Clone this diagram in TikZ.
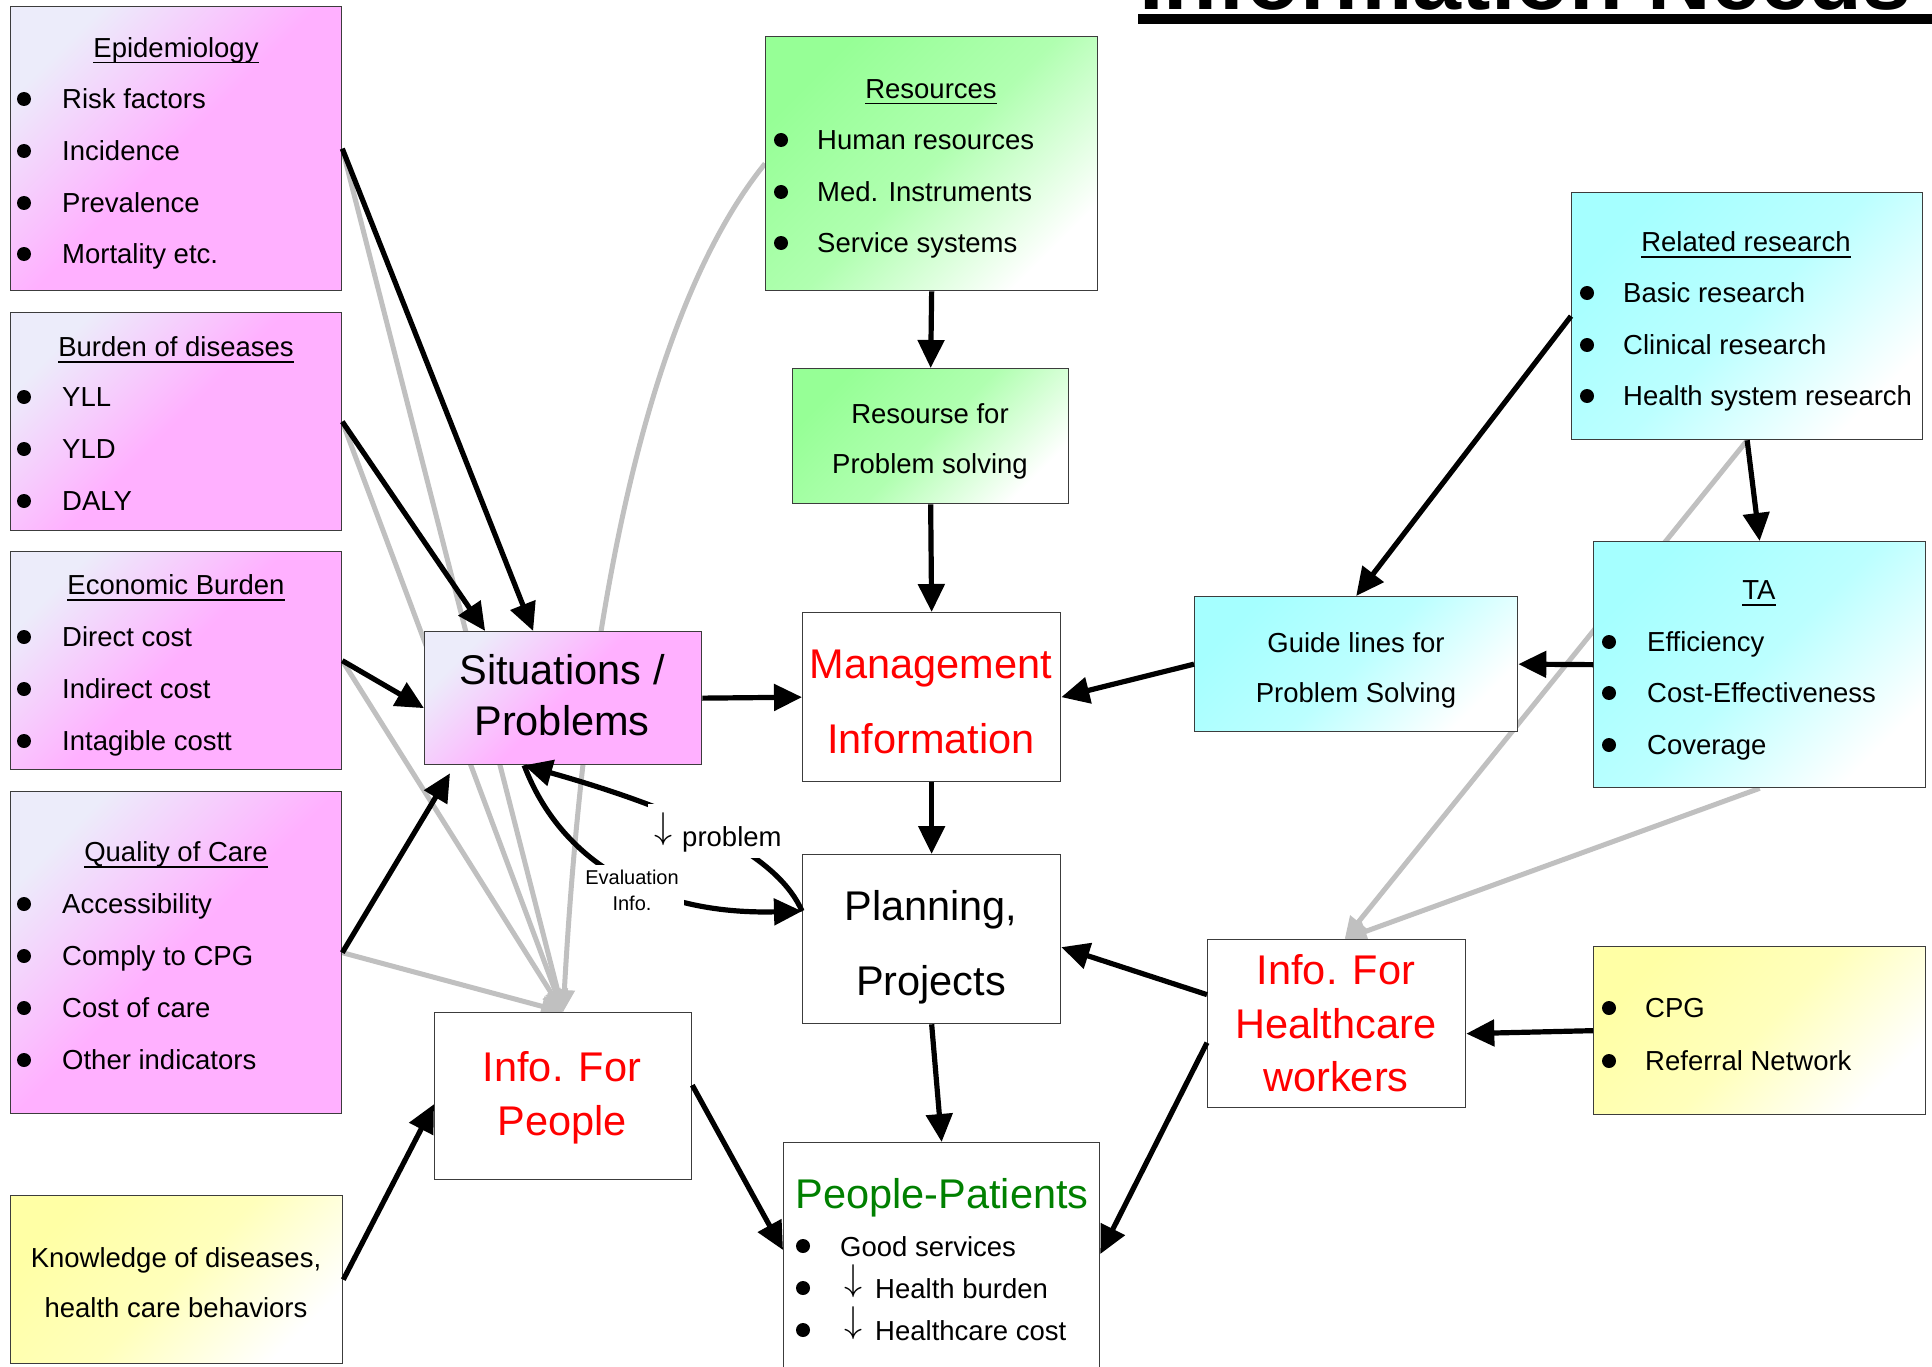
\documentclass[tikz,border=0pt]{standalone}
\usepackage{fontspec}
\usepackage{graphicx}
\setmainfont{Liberation Sans}
\usetikzlibrary{arrows.meta}

\definecolor{pinkC}{RGB}{255,176,255}
\definecolor{lavC}{RGB}{236,236,250}
\definecolor{greenC}{RGB}{150,255,150}
\definecolor{cyanC}{RGB}{165,255,255}
\definecolor{yellowC}{RGB}{255,255,165}
\definecolor{lineG}{RGB}{192,192,192}
\definecolor{borderC}{RGB}{60,60,60}
\definecolor{redT}{RGB}{255,0,0}
\definecolor{greenT}{RGB}{0,128,0}

\newcommand\FItem{\fontsize{27.5pt}{32pt}\selectfont}
\newcommand\FBig{\fontsize{41.5pt}{48pt}\selectfont}
\newcommand\FSmall{\fontsize{20pt}{26pt}\selectfont}
\newcommand\FTitle{\fontsize{88pt}{100pt}\selectfont\bfseries}
\newsavebox\ulbox
\newcommand\myul[1]{\sbox\ulbox{#1}\rlap{\rule[-6pt]{\wd\ulbox}{1.6pt}}\usebox\ulbox}
\newcommand\darr{\raisebox{8pt}{\scalebox{1.45}[1.5]{$\downarrow$}}}

\pgfdeclarelayer{paper}
\pgfdeclarelayer{bg}
\pgfsetlayers{paper,bg,main}

\tikzset{
  box/.style={draw=borderC, line width=1.3pt, inner sep=0pt, anchor=north west, rectangle},
  pinkbox/.style={box, top color=pinkC, bottom color=lavC, middle color=pinkC, shading angle=225},
  greenbox/.style={box, top color=greenC, bottom color=white, middle color=greenC!75!white, shading angle=45},
  cyanbox/.style={box, top color=cyanC, bottom color=white, middle color=cyanC!75!white, shading angle=45},
  yellowbox/.style={box, top color=yellowC, bottom color=white, middle color=yellowC!75!white, shading angle=45},
  whitebox/.style={box, fill=white},
  itm/.style={anchor=west, inner sep=0pt, font=\FItem, text height=19pt, text depth=0pt},
  ctr/.style={anchor=center, inner sep=0pt, font=\FItem, text height=19pt, text depth=0pt},
  big/.style={anchor=center, inner sep=0pt, font=\FBig, text height=29pt, text depth=0pt},
  arr/.style={line width=5.2pt, -{Triangle[length=28pt,width=26pt]}},
  gry/.style={line width=5pt, draw=lineG, -{Triangle[length=22pt,width=20pt]}, color=lineG},
}

\begin{document}
\begin{tikzpicture}[x=1pt,y=-1pt]
\useasboundingbox (0,0) rectangle (1932,1367);
\clip (0,0) rectangle (1932,1367);
\begin{pgfonlayer}{paper}
\fill[white] (0,0) rectangle (1932,1367);
\end{pgfonlayer}

% title (cut off at the top)
\node[anchor=base west, inner sep=0pt, font=\FTitle] (title) at (1139,10) {Information Needs};
\fill (1138,14) rectangle (1940,24);

% ---------- boxes ----------
\node[pinkbox, minimum width=331pt, minimum height=284pt] (epi) at (10,6) {};
\node[pinkbox, minimum width=331pt, minimum height=218pt] (bur) at (10,312) {};
\node[pinkbox, minimum width=331pt, minimum height=218pt] (eco) at (10,551) {};
\node[pinkbox, minimum width=331pt, minimum height=322pt] (qoc) at (10,791) {};
\node[yellowbox, minimum width=332pt, minimum height=168pt] (kno) at (10,1195) {};
\node[pinkbox, minimum width=277pt, minimum height=133pt] (sit) at (424,631) {};
\node[whitebox, minimum width=257pt, minimum height=167pt] (ifp) at (434,1012) {};
\node[greenbox, minimum width=332pt, minimum height=254pt] (res) at (765,36) {};
\node[greenbox, minimum width=276pt, minimum height=135pt] (rfp) at (792,368) {};
\node[whitebox, minimum width=258pt, minimum height=169pt] (mgt) at (802,612) {};
\node[whitebox, minimum width=258pt, minimum height=169pt] (pln) at (802,854) {};
\node[whitebox, minimum width=316pt, minimum height=260pt] (ppt) at (783,1142) {};
\node[cyanbox, minimum width=351pt, minimum height=247pt] (rel) at (1571,192) {};
\node[cyanbox, minimum width=332pt, minimum height=246pt] (ta) at (1593,541) {};
\node[cyanbox, minimum width=323pt, minimum height=135pt] (gl) at (1194,596) {};
\node[whitebox, minimum width=258pt, minimum height=168pt] (ihc) at (1207,939) {};
\node[yellowbox, minimum width=332pt, minimum height=168pt] (cpg) at (1593,946) {};

% ---------- texts ----------
% Epidemiology
\node[ctr] (epiT) at (176,48) {\myul{Epidemiology}};
\node[itm] (epi1) at (62,99) {Risk factors};
\node[itm] (epi2) at (62,151) {Incidence};
\node[itm] (epi3) at (62,203) {Prevalence};
\node[itm] (epi4) at (62,254) {Mortality etc.};
\foreach \y in {99,151,203,254} \fill (24,\y) circle (7pt);
% Burden
\node[ctr] (burT) at (176,347) {\myul{Burden of diseases}};
\node[itm] (bur1) at (62,397) {YLL};
\node[itm] (bur2) at (62,449) {YLD};
\node[itm] (bur3) at (62,501) {DALY};
\foreach \y in {397,449,501} \fill (24,\y) circle (7pt);
% Economic
\node[ctr] (ecoT) at (176,585) {\myul{Economic Burden}};
\node[itm] (eco1) at (62,637) {Direct cost};
\node[itm] (eco2) at (62,689) {Indirect cost};
\node[itm] (eco3) at (62,741) {Intagible costt};
\foreach \y in {637,689,741} \fill (24,\y) circle (7pt);
% Quality
\node[ctr] (qocT) at (176,852) {\myul{Quality of Care}};
\node[itm] (qoc1) at (62,904) {Accessibility};
\node[itm] (qoc2) at (62,956) {Comply to CPG};
\node[itm] (qoc3) at (62,1008) {Cost of care};
\node[itm] (qoc4) at (62,1060) {Other indicators};
\foreach \y in {904,956,1008,1060} \fill (24,\y) circle (7pt);
% Knowledge
\node[ctr] (kno1) at (176,1258) {Knowledge of diseases,};
\node[ctr] (kno2) at (176,1308) {health care behaviors};
% Situations
\node[big] (sit1) at (562,670) {Situations /};
\node[big] (sit2) at (562,721) {Problems};
% Info for people
\node[big, text=redT] (ifp1) at (562,1067) {Info. For};
\node[big, text=redT] (ifp2) at (562,1121) {People};
% Resources
\node[ctr] (resT) at (931,89) {\myul{Resources}};
\node[itm] (res1) at (817,140) {Human resources};
\node[itm] (res2) at (817,192) {Med. Instruments};
\node[itm] (res3) at (817,243) {Service systems};
\foreach \y in {140,192,243} \fill (781,\y) circle (7pt);
% Resourse for problem solving
\node[ctr] (rfp1) at (930,414) {Resourse for};
\node[ctr] (rfp2) at (930,464) {Problem solving};
% Management
\node[big, text=redT] (mgt1) at (931,664) {Management};
\node[big, text=redT] (mgt2) at (931,739) {Information};
% Planning
\node[big] (pln1) at (931,906) {Planning,};
\node[big] (pln2) at (931,981) {Projects};
% People-Patients
\node[big, text=greenT] (pptT) at (942,1194) {People-Patients};
\node[itm] (ppt1) at (840,1247) {Good services};
\node[itm] (ppt2) at (840,1289) {\hspace{4pt}\darr\hspace{13pt}Health burden};
\node[itm] (ppt3) at (840,1331) {\hspace{4pt}\darr\hspace{13pt}Healthcare cost};
\foreach \y in {1246,1288,1330} \fill (803,\y) circle (7pt);
% Related research
\node[ctr] (relT) at (1746,242) {\myul{Related research}};
\node[itm] (rel1) at (1623,293) {Basic research};
\node[itm] (rel2) at (1623,345) {Clinical research};
\node[itm] (rel3) at (1623,396) {Health system research};
\foreach \y in {293,345,396} \fill (1587,\y) circle (7pt);
% TA
\node[ctr] (taT) at (1759,590) {\myul{TA}};
\node[itm] (ta1) at (1647,642) {Efficiency};
\node[itm] (ta2) at (1647,693) {Cost-Effectiveness};
\node[itm] (ta3) at (1647,745) {Coverage};
\foreach \y in {642,693,745} \fill (1609,\y) circle (7pt);
% Guide lines
\node[ctr] (gl1) at (1356,643) {Guide lines for};
\node[ctr] (gl2) at (1356,693) {Problem Solving};
% Info for healthcare workers
\node[big, text=redT] (ihc1) at (1336,970) {Info. For};
\node[big, text=redT] (ihc2) at (1336,1024) {Healthcare};
\node[big, text=redT] (ihc3) at (1336,1077) {workers};
% CPG
\node[itm] (cpg1) at (1645,1008) {CPG};
\node[itm] (cpg2) at (1645,1061) {Referral Network};
\foreach \y in {1008,1061} \fill (1609,\y) circle (7pt);

% ---------- gray connectors (behind boxes) ----------
\begin{pgfonlayer}{bg}
\draw[gry] (epi.east) -- (ifp.north);
\draw[gry] (bur.east) -- (ifp.north);
\draw[gry] (eco.east) -- (ifp.north);
\draw[gry] (qoc.east) -- (ifp.north);
\draw[gry] (res.west) .. controls (655,300) and (587,583) .. (ifp.north);
\draw[gry] (rel.south) -- ([xshift=8pt]ihc.north);
\draw[gry] (ta.south) -- ([xshift=8pt]ihc.north);
\end{pgfonlayer}

% ---------- black connectors ----------
\draw[arr] (epi.east) -- ([xshift=-30pt]sit.north);
\draw[arr] (bur.east) -- ([xshift=-78pt]sit.north);
\draw[arr] (eco.east) -- ([yshift=-10pt]sit.west);
\draw[arr] (qoc.east) -- ([xshift=26pt,yshift=-8pt]sit.south west);
\draw[arr] (kno.east) -- ([yshift=-8pt]ifp.west);
\draw[arr] ([yshift=11pt]ifp.east) -- ([yshift=-108pt]ppt.north west);
\draw[arr] (sit.east) -- (mgt.west);
\draw[arr] (res.south) -- (rfp.north);
\draw[arr] (rfp.south) -- (mgt.north);
\draw[arr] (mgt.south) -- (pln.north);
\draw[arr] (pln.south) -- (ppt.north);
\draw[arr] (gl.west) -- (mgt.east);
\draw[arr] (rel.west) -- (gl.north);
\draw[arr] (rel.south) -- (ta.north);
\draw[arr] (ta.west) -- (gl.east);
\draw[arr] ([yshift=29pt]ihc.west) -- ([yshift=-8pt]pln.east);
\draw[arr] ([yshift=-19pt]ihc.west) -- ([yshift=-112pt]ppt.north east);
\draw[arr] (cpg.west) -- ([yshift=-10pt]ihc.east);
% feedback loop
\draw[arr] ([yshift=28pt]pln.west) .. controls (780,860) and (700,815) .. ([xshift=-39pt]sit.south);
\draw[arr] ([xshift=-39pt]sit.south) .. controls (560,860) and (650,915) .. ([yshift=28pt]pln.west);

% loop labels (white background hides the lines)
\node[anchor=base west, fill=white, inner sep=6pt, font=\FItem, text height=36pt, text depth=6pt] (prob) at (648,846) {\darr\hspace{10pt}problem};
\node[fill=white, inner sep=5pt, font=\FSmall, align=center] (eval) at (632,890) {Evaluation\\Info.};
\end{tikzpicture}
\end{document}
